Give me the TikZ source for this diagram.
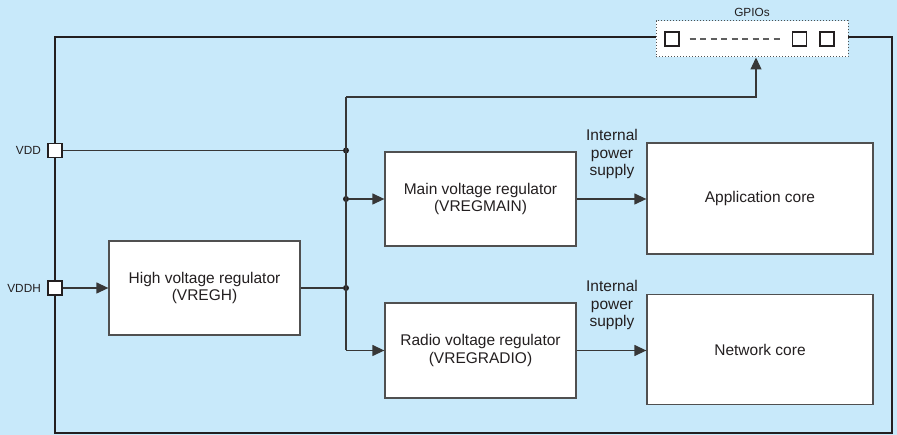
\documentclass[tikz,border=0pt]{standalone}
\usepackage{fontspec}
\setmainfont{Liberation Sans}
\usetikzlibrary{arrows.meta,calc}
\definecolor{bgblue}{RGB}{200,233,250}
\definecolor{ink}{RGB}{35,31,32}
\definecolor{boxline}{RGB}{80,80,80}
\definecolor{wire}{RGB}{55,55,55}
\tikzset{
  blockbox/.style={draw=boxline, line width=1.3pt, fill=white, inner sep=0pt, align=center,
    font=\fontsize{15.5}{17.5}\selectfont, text=ink},
  pinbox/.style={draw=ink, line width=1.2pt, fill=white, minimum size=14pt, inner sep=0pt},
  gsq/.style={draw=ink, line width=1.2pt, fill=white, minimum size=14pt, inner sep=0pt},
  pinlabel/.style={font=\fontsize{11.8}{13}\selectfont, text=ink, inner sep=0pt},
  wirestyle/.style={draw=wire, line width=1.3pt},
  arr/.style={wirestyle, -{Triangle[length=12pt,width=11pt]}},
  junction/.style={circle, fill=ink, inner sep=0pt, minimum size=6pt},
  supplylabel/.style={align=center, font=\fontsize{15.5}{17.5}\selectfont, text=ink, inner sep=0pt},
}
\begin{document}
\begin{tikzpicture}[x=1pt,y=-1pt]
\fill[bgblue] (0,0) rectangle (897,435);
\useasboundingbox (0,0) rectangle (897,435);
% outer frame
\draw[ink, line width=2.2pt] (55,37) rectangle (892,433);
% GPIO block
\node[draw=boxline, dotted, line width=1pt, fill=white, minimum width=192pt, minimum height=36pt, inner sep=0pt] (gpio) at (752,39) {};
\node[pinlabel] (gpiolab) at (752,12) {GPIOs};
\node[gsq] (g1) at (672,39) {};
\node[gsq] (g2) at (799.5,39) {};
\node[gsq] (g3) at (827,39) {};
\coordinate (dstart) at ($(g1.east)+(10,0)$);
\coordinate (dend) at ($(g2.west)+(-9,0)$);
\draw[wire!80, line width=1.4pt, dash pattern=on 6pt off 4.5pt] (dstart) -- (dend);
% pins
\node[pinbox] (vddpin) at (55,150.5) {};
\node[pinbox] (vddhpin) at (55,288) {};
\node[pinlabel, anchor=east] (vddlab) at (41,150.5) {VDD};
\node[pinlabel, anchor=east] (vddhlab) at (41,288) {VDDH};
% blocks
\node[blockbox, minimum width=191pt, minimum height=94pt] (vregh) at (204.5,288) {High voltage regulator\\(VREGH)};
\node[blockbox, minimum width=191pt, minimum height=94pt] (vmain) at (480.5,199) {Main voltage regulator\\(VREGMAIN)};
\node[blockbox, minimum width=191pt, minimum height=95pt] (vradio) at (480.5,350.5) {Radio voltage regulator\\(VREGRADIO)};
\node[blockbox, minimum width=226pt, minimum height=111pt] (app) at (760,198.5) {Application core};
\node[blockbox, minimum width=226pt, minimum height=110pt] (net) at (760,349.5) {Network core};
% labels
\node[supplylabel] (sup1) at (612,154) {Internal\\power\\supply};
\node[supplylabel] (sup2) at (612,305) {Internal\\power\\supply};
% bus
\coordinate (btop) at (346,97);
\coordinate (gturn) at (756,97);
\node[junction] (j1) at (346,150.5) {};
\node[junction] (j2) at (346,199) {};
\node[junction] (j3) at (346,288) {};
\coordinate (bbot) at (346,350.5);
\draw[wirestyle] (btop) -- (bbot);
\draw[arr] (btop) -- (gturn) -- (gturn |- gpio.south);
\draw[wirestyle] (vddpin.east) -- (j1);
\draw[arr] (vddhpin.east) -- (vregh.west);
\draw[wirestyle] (vregh.east) -- (j3);
\draw[arr] (j2) -- (vmain.west);
\draw[arr] (bbot) -- (vradio.west);
\draw[arr] (vmain.east) -- (vmain.east -| app.west);
\draw[arr] (vradio.east) -- (vradio.east -| net.west);
\end{tikzpicture}
\end{document}
